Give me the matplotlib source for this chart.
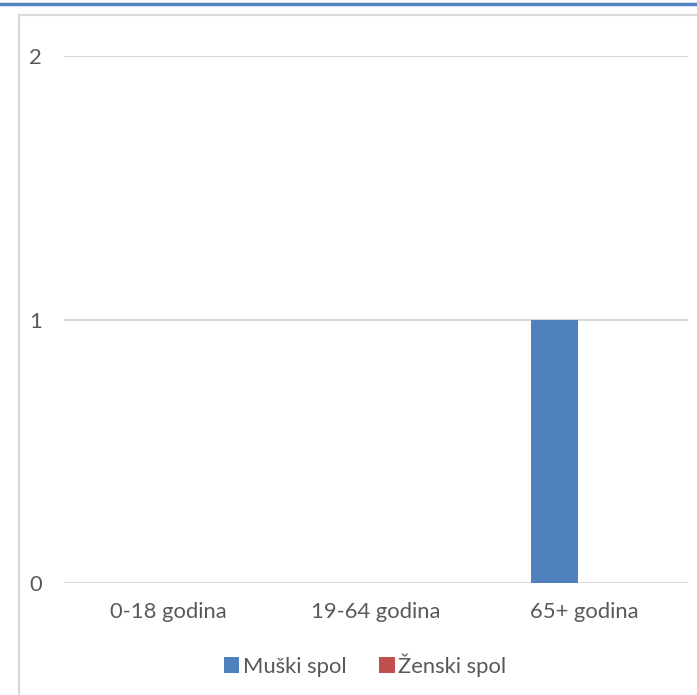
import matplotlib.pyplot as plt
from matplotlib.patches import Rectangle
from matplotlib.lines import Line2D
import numpy as np

categories = ['0-18 godina', '19-64 godina', '65+ godina']
muski = [0, 0, 1]
zenski = [0, 0, 0]
series_names = ['Muški spol', 'Ženski spol']
yticks = [0, 1, 2]

W, H = 697, 695
fig = plt.figure(figsize=(W / 100, H / 100), dpi=100)
plt.rcParams['font.family'] = ['Lato', 'DejaVu Sans']

# outer chart frame and top blue rule (drawn behind the axes)
fig.patches.append(Rectangle((19 / W, -0.1), 1.0, 1 - 15 / H + 0.1, transform=fig.transFigure,
                             facecolor='white', edgecolor='#d9d9d9', linewidth=1.5, zorder=-1))
fig.lines.append(Line2D([0, 1], [1 - 4 / H, 1 - 4 / H], transform=fig.transFigure,
                        color='#4f81bd', linewidth=2.5, zorder=-1))

ax = fig.add_axes([64 / W, 1 - 583 / H, 624 / W, (583 - 56) / H])
ax.set_facecolor('none')

x = np.arange(len(categories))
w = 0.226
off = 0.142
ax.bar(x - off, muski, w, color='#4f81bd', label=series_names[0], zorder=3)
ax.bar(x + off, zenski, w, color='#c0504d', label=series_names[1], zorder=3)

fs = 15.8
ax.set_xlim(-0.5, 2.5)
ax.set_ylim(0, 2)
ax.set_yticks(yticks)
ax.set_xticks(x)
ax.set_xticklabels(categories)
ax.grid(axis='y', color='#d9d9d9', linewidth=1.5, zorder=0)
for s in ax.spines.values():
    s.set_visible(False)
ax.tick_params(axis='y', length=0, pad=16, labelsize=fs, labelcolor='#595959')
ax.tick_params(axis='x', length=0, pad=14, labelsize=fs, labelcolor='#595959')

ax.legend(loc='center', bbox_to_anchor=(365 / W, 1 - 665 / H), bbox_transform=fig.transFigure,
          ncol=2, frameon=False, fontsize=fs, labelcolor='#595959',
          handlelength=0.7, handleheight=0.7, handletextpad=0.15, columnspacing=1.5)

fig.savefig('out.png', dpi=100)
